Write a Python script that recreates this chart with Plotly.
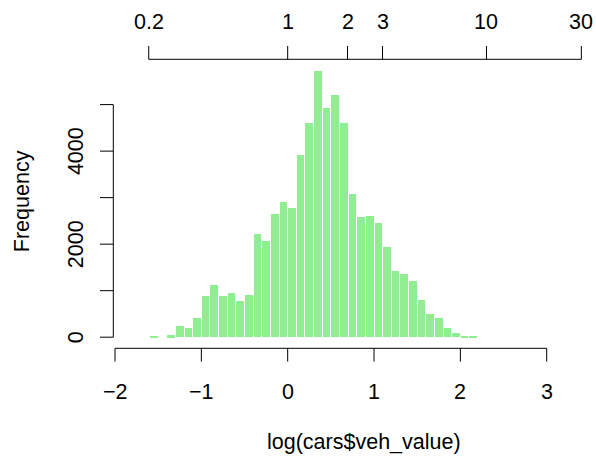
import numpy as np
import plotly.graph_objects as go

# ---------------- data ----------------
bin_left = [-1.6, -1.5, -1.4, -1.3, -1.2, -1.1, -1.0, -0.9, -0.8, -0.7,
            -0.6, -0.5, -0.4, -0.3, -0.2, -0.1, 0.0, 0.1, 0.2, 0.3,
            0.4, 0.5, 0.6, 0.7, 0.8, 0.9, 1.0, 1.1, 1.2, 1.3,
            1.4, 1.5, 1.6, 1.7, 1.8, 1.9, 2.0, 2.1]
counts = [20, 0, 40, 236, 207, 408, 880, 1116, 880, 951,
          780, 901, 2210, 2067, 2654, 2897, 2768, 3927, 4606, 5722,
          4935, 5214, 4606, 3076, 2575, 2597, 2453, 1931, 1416, 1352,
          1209, 808, 494, 415, 207, 93, 29, 21]
bin_width = 0.1

bottom_ticks = [-2, -1, 0, 1, 2, 3]
bottom_labels = ["\u22122", "\u22121", "0", "1", "2", "3"]
y_ticks = [0, 1000, 2000, 3000, 4000, 5000]
y_labels = ["0", "", "2000", "", "4000", ""]
top_ticks = [0.2, 1, 2, 3, 10, 30]
top_labels = ["0.2", "1", "2", "3", "10", "30"]

x_title = "log(cars$veh_value)"
y_title = "Frequency"

# ---------------- layout geometry (pixels) ----------------
W, H = 596, 457
PX_X_M2, PX_PER_X = 115.0, 86.34      # pixel of x=-2, pixels per unit
PX_Y0, PX_PER_Y = 337.2, 0.04652      # pixel of y=0, pixels per count

x_rng = [-2 - PX_X_M2 / PX_PER_X, -2 + (W - PX_X_M2) / PX_PER_X]
y_rng = [-(H - PX_Y0) / PX_PER_Y, PX_Y0 / PX_PER_Y]


def dx(px):  # pixel column -> data x
    return x_rng[0] + px / W * (x_rng[1] - x_rng[0])


def dy(py):  # pixel row -> data y
    return y_rng[1] - py / H * (y_rng[1] - y_rng[0])


FONT = dict(family="Liberation Sans, Arial, Helvetica, sans-serif", size=21.5, color="black")
TICK = 13.3
LINE = dict(color="black", width=1)
GAP_PX = 1.0

fig = go.Figure()
centers = [b + bin_width / 2 for b in bin_left]
fig.add_trace(go.Bar(x=centers, y=counts, width=bin_width - GAP_PX / PX_PER_X,
                     marker=dict(color="#90EE90", line=dict(width=0)),
                     hoverinfo="x+y"))

shapes, ann = [], []
# bottom axis
yb = dy(348.3)
shapes.append(dict(type="line", xref="x", yref="y", x0=bottom_ticks[0], x1=bottom_ticks[-1], y0=yb, y1=yb, line=LINE))
for t, lab in zip(bottom_ticks, bottom_labels):
    shapes.append(dict(type="line", xref="x", yref="y", x0=t, x1=t, y0=yb, y1=dy(348.3 + TICK), line=LINE))
    ann.append(dict(x=t, y=dy(392), xref="x", yref="y", text=lab, showarrow=False,
                    xanchor="center", yanchor="middle", font=FONT))
# left axis
xl = dx(113.3)
shapes.append(dict(type="line", xref="x", yref="y", x0=xl, x1=xl, y0=y_ticks[0], y1=y_ticks[-1], line=LINE))
for t, lab in zip(y_ticks, y_labels):
    shapes.append(dict(type="line", xref="x", yref="y", x0=dx(113.3 - TICK), x1=xl, y0=t, y1=t, line=LINE))
    if lab:
        ann.append(dict(x=dx(76), y=t, xref="x", yref="y", text=lab, showarrow=False, textangle=-90,
                        xanchor="center", yanchor="middle", font=FONT))
# top axis (original scale, log positions)
yt = dy(59.3)
tl = np.log(top_ticks)
shapes.append(dict(type="line", xref="x", yref="y", x0=tl[0], x1=tl[-1], y0=yt, y1=yt, line=LINE))
for t, lab in zip(tl, top_labels):
    shapes.append(dict(type="line", xref="x", yref="y", x0=t, x1=t, y0=yt, y1=dy(59.3 - TICK), line=LINE))
    ann.append(dict(x=t, y=dy(22), xref="x", yref="y", text=lab, showarrow=False,
                    xanchor="center", yanchor="middle", font=FONT))
# titles
ann.append(dict(x=dx(364), y=dy(442), xref="x", yref="y", text=x_title, showarrow=False,
                xanchor="center", yanchor="middle", font=FONT))
ann.append(dict(x=dx(21.5), y=dy(201.7), xref="x", yref="y", text=y_title, showarrow=False, textangle=-90,
                xanchor="center", yanchor="middle", font=FONT))

fig.update_layout(
    width=W, height=H, margin=dict(l=0, r=0, t=0, b=0),
    paper_bgcolor="white", plot_bgcolor="white", showlegend=False, bargap=0,
    xaxis=dict(range=x_rng, visible=False, fixedrange=True),
    yaxis=dict(range=y_rng, visible=False, fixedrange=True),
    shapes=shapes, annotations=ann,
)
fig.write_html("out.html")
